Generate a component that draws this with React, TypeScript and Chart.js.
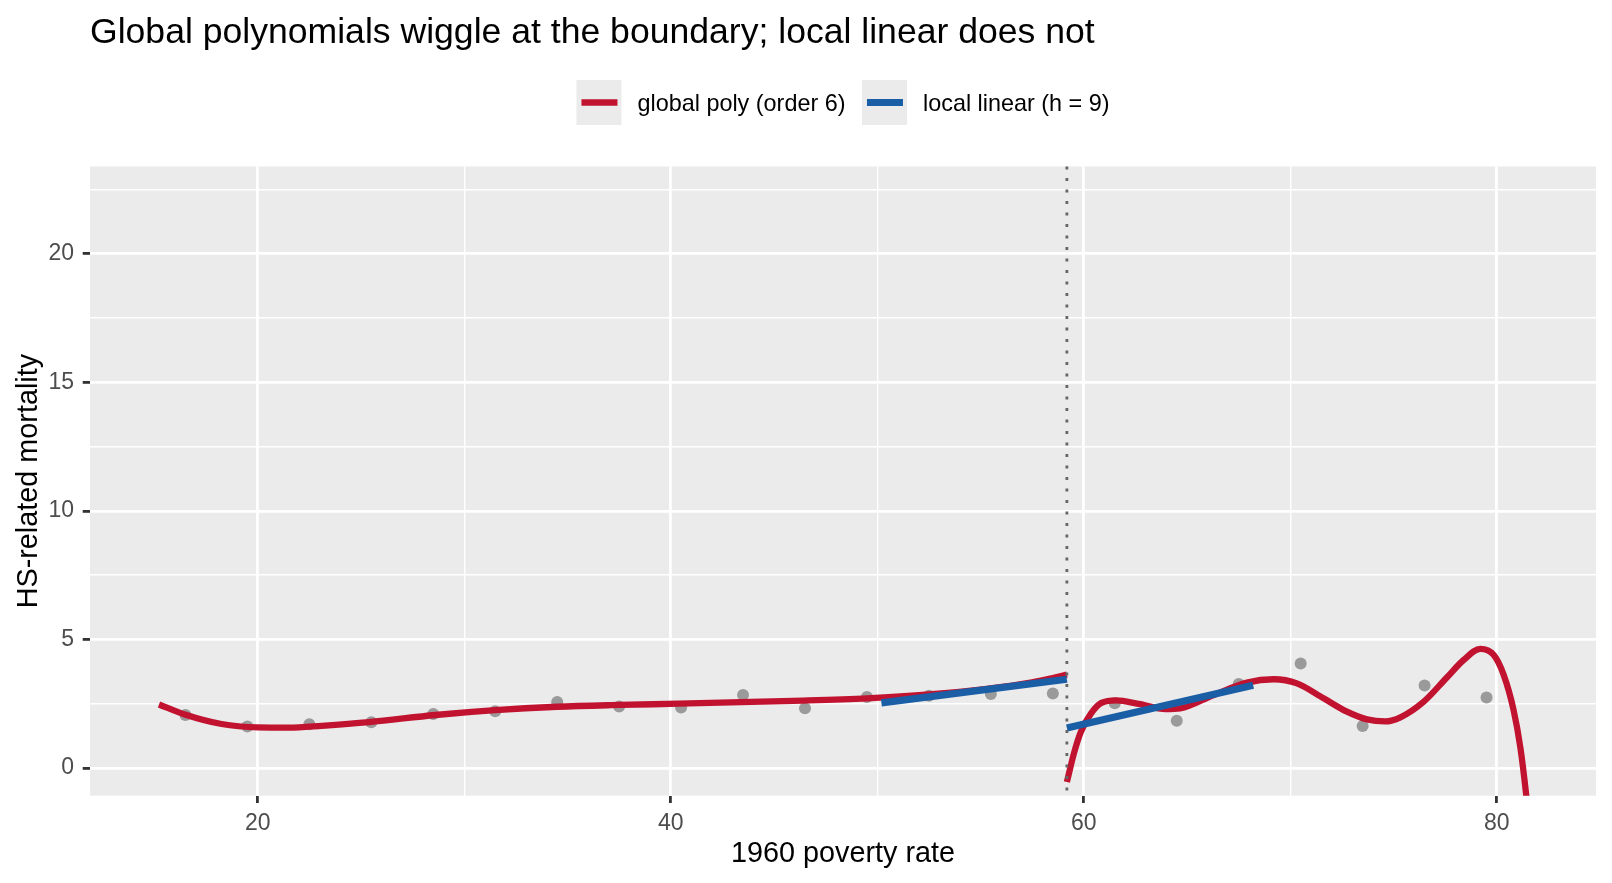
import { useEffect, useRef } from 'react';
import { Chart, registerables } from 'chart.js';

Chart.register(...registerables);

// binned means
const BIN_X = [16.5, 19.5, 22.5, 25.5, 28.5, 31.5, 34.5, 37.5, 40.5, 43.5, 46.5, 49.5, 52.5, 55.5, 58.5, 61.5, 64.5, 67.5, 70.5, 73.5, 76.5, 79.5];
const BIN_Y = [2.06, 1.61, 1.70, 1.78, 2.10, 2.21, 2.57, 2.39, 2.35, 2.84, 2.32, 2.76, 2.81, 2.88, 2.90, 2.52, 1.84, 3.27, 4.06, 1.63, 3.21, 2.74];

// global polynomial fit
const POLY_LEFT_X = [15.22, 16.47, 18.25, 20.0, 21.5, 23.1, 25.4, 28.6, 31.5, 34.5, 37.5, 40.4, 43.4, 46.4, 49.5, 52.5, 55.3, 57.5, 58.5, 59.18];
const POLY_LEFT_Y = [2.47, 2.08, 1.71, 1.58, 1.57, 1.64, 1.78, 2.06, 2.25, 2.38, 2.45, 2.50, 2.56, 2.62, 2.71, 2.86, 3.08, 3.33, 3.50, 3.63];
const POLY_RIGHT_X = [59.18, 59.54, 59.86, 60.36, 60.85, 61.58, 62.65, 63.96, 64.67, 66.29, 67.9, 69.19, 70.32, 71.61, 72.74, 73.71, 74.6, 75.33, 76.46, 77.59, 78.39, 79.2, 79.84, 80.33, 80.81, 81.14, 81.43, 81.7];
const POLY_RIGHT_Y = [-0.55, 0.62, 1.41, 2.13, 2.53, 2.63, 2.49, 2.29, 2.32, 2.84, 3.32, 3.45, 3.29, 2.71, 2.19, 1.89, 1.81, 1.97, 2.58, 3.53, 4.2, 4.63, 4.4, 3.62, 2.25, 0.78, -1.12, -3.3];

// local linear fit
const LOCAL_LEFT_X = [50.2, 59.18];
const LOCAL_LEFT_Y = [2.53, 3.45];
const LOCAL_RIGHT_X = [59.18, 68.2];
const LOCAL_RIGHT_Y = [1.55, 3.22];

const CUTOFF = 59.18;

const X_GRID = [20, 30, 40, 50, 60, 70, 80];
const X_LABELS = [20, 40, 60, 80];
const Y_GRID = [0, 2.5, 5, 7.5, 10, 12.5, 15, 17.5, 20, 22.5];
const Y_LABELS = [0, 5, 10, 15, 20];

const TITLE = 'Global polynomials wiggle at the boundary; local linear does not';
const LEGEND_LABELS = ['global poly (order 6)', 'local linear (h = 9)'];
const RED = '#C1132F';
const BLUE = '#1A5EA6';
const FONT = '"Liberation Sans", Arial, Helvetica, sans-serif';

const toPoints = (xs: number[], ys: number[]) => xs.map((x, i) => ({ x, y: ys[i] }));

const ggPlugin = {
  id: 'ggDecor',
  beforeDraw(chart: any) {
    const { ctx, chartArea: a } = chart;
    ctx.save();
    ctx.fillStyle = '#EBEBEB';
    ctx.fillRect(a.left, a.top, a.right - a.left, a.bottom - a.top);
    ctx.restore();
  },
  afterDatasetsDraw(chart: any) {
    const { ctx, chartArea: a, scales } = chart;
    const px = scales.x.getPixelForValue(CUTOFF);
    ctx.save();
    ctx.strokeStyle = '#666666';
    ctx.lineWidth = 2.8;
    ctx.setLineDash([2.9, 8.6]);
    ctx.beginPath();
    ctx.moveTo(px, a.top);
    ctx.lineTo(px, a.bottom);
    ctx.stroke();
    ctx.restore();
  },
  afterDraw(chart: any) {
    const { ctx, chartArea: a } = chart;
    ctx.save();
    ctx.fillStyle = '#000000';
    ctx.textBaseline = 'alphabetic';
    ctx.textAlign = 'left';
    ctx.font = `35.6px ${FONT}`;
    ctx.fillText(TITLE, a.left, 42.5);

    // legend
    ctx.font = `23.4px ${FONT}`;
    const key = 45;
    const gapText = 16;
    const gapItem = 16.5;
    const widths = LEGEND_LABELS.map((t) => ctx.measureText(t).width);
    const total = key * 2 + gapText * 2 + gapItem + widths[0] + widths[1];
    let x = (a.left + a.right) / 2 - total / 2;
    const top = 80;
    const colors = [RED, BLUE];
    const lw = [6.3, 7.2];
    LEGEND_LABELS.forEach((t, i) => {
      ctx.fillStyle = '#EBEBEB';
      ctx.fillRect(x, top, key, key);
      ctx.strokeStyle = colors[i];
      ctx.lineWidth = lw[i];
      ctx.setLineDash([]);
      ctx.beginPath();
      ctx.moveTo(x + 5, top + key / 2);
      ctx.lineTo(x + key - 4, top + key / 2);
      ctx.stroke();
      x += key + gapText;
      ctx.fillStyle = '#000000';
      ctx.fillText(t, x, 111);
      x += widths[i] + gapItem;
    });
    ctx.restore();
  },
};

export default function App() {
  const chartRef = useRef<HTMLCanvasElement | null>(null);
  const chartInstance = useRef<Chart | null>(null);

  useEffect(() => {
    if (!chartRef.current) return;
    if (chartInstance.current) chartInstance.current.destroy();

    const tickFont = { family: FONT, size: 23 };
    const titleFont = { family: FONT, size: 28.8 };

    chartInstance.current = new Chart(chartRef.current, {
      type: 'scatter',
      data: {
        datasets: [
          {
            label: 'local linear left',
            data: toPoints(LOCAL_LEFT_X, LOCAL_LEFT_Y),
            showLine: true,
            borderColor: BLUE,
            borderWidth: 7.2,
            pointRadius: 0,
            order: 1,
            clip: 0,
          },
          {
            label: 'local linear right',
            data: toPoints(LOCAL_RIGHT_X, LOCAL_RIGHT_Y),
            showLine: true,
            borderColor: BLUE,
            borderWidth: 7.2,
            pointRadius: 0,
            order: 1,
            clip: 0,
          },
          {
            label: 'global poly left',
            data: toPoints(POLY_LEFT_X, POLY_LEFT_Y),
            showLine: true,
            borderColor: RED,
            borderWidth: 6.3,
            pointRadius: 0,
            cubicInterpolationMode: 'monotone',
            order: 2,
            clip: 0,
          },
          {
            label: 'global poly right',
            data: toPoints(POLY_RIGHT_X, POLY_RIGHT_Y),
            showLine: true,
            borderColor: RED,
            borderWidth: 6.3,
            pointRadius: 0,
            cubicInterpolationMode: 'monotone',
            order: 2,
            clip: 0,
          },
          {
            label: 'bins',
            data: toPoints(BIN_X, BIN_Y),
            pointRadius: 6,
            pointBackgroundColor: '#9A9A9A',
            pointBorderWidth: 0,
            order: 3,
          },
        ],
      },
      options: {
        animation: false,
        responsive: false,
        events: [],
        layout: { padding: { top: 166.5, right: 16, left: 0, bottom: 0 } },
        plugins: {
          legend: { display: false },
          title: { display: false },
          tooltip: { enabled: false },
        },
        scales: {
          x: {
            type: 'linear',
            min: 11.88,
            max: 84.8,
            afterBuildTicks: (s: any) => {
              s.ticks = X_GRID.map((v) => ({ value: v }));
            },
            afterFit: (s: any) => {
              s.height = 87.3;
            },
            border: { display: false },
            grid: {
              color: '#FFFFFF',
              lineWidth: (c: any) => (X_LABELS.includes(c.tick?.value) ? 2.8 : 1.4),
              tickLength: 7.3,
              tickWidth: 2.8,
              tickColor: (c: any) => (X_LABELS.includes(c.tick?.value) ? '#333333' : 'rgba(0,0,0,0)'),
            },
            ticks: {
              autoSkip: false,
              maxRotation: 0,
              padding: 6.5,
              color: '#4D4D4D',
              font: tickFont,
              callback: (v: any) => (X_LABELS.includes(Number(v)) ? String(v) : ''),
            },
            title: {
              display: true,
              text: '1960 poverty rate',
              color: '#000000',
              font: titleFont,
              padding: { top: 0, bottom: 12 },
            },
          },
          y: {
            type: 'linear',
            min: -1.08,
            max: 23.4,
            afterBuildTicks: (s: any) => {
              s.ticks = Y_GRID.map((v) => ({ value: v }));
            },
            afterFit: (s: any) => {
              s.width = 90;
            },
            border: { display: false },
            grid: {
              color: '#FFFFFF',
              lineWidth: (c: any) => (Y_LABELS.includes(c.tick?.value) ? 2.8 : 1.4),
              tickLength: 7.3,
              tickWidth: 2.8,
              tickColor: (c: any) => (Y_LABELS.includes(c.tick?.value) ? '#333333' : 'rgba(0,0,0,0)'),
            },
            ticks: {
              autoSkip: false,
              padding: 8.7,
              color: '#4D4D4D',
              font: tickFont,
              callback: (v: any) => (Y_LABELS.includes(Number(v)) ? String(v) : ''),
            },
            title: {
              display: true,
              text: 'HS-related mortality',
              color: '#000000',
              font: titleFont,
              padding: { top: 11.6, bottom: 0 },
            },
          },
        },
      },
      plugins: [ggPlugin],
    } as any);

    return () => {
      if (chartInstance.current) {
        chartInstance.current.destroy();
        chartInstance.current = null;
      }
    };
  }, []);

  return (
    <div style={{ position: 'absolute', left: 0, top: 0, width: 1612, height: 883, background: '#FFFFFF' }}>
      <canvas ref={chartRef} width={1612} height={883} style={{ display: 'block' }} />
    </div>
  );
}
